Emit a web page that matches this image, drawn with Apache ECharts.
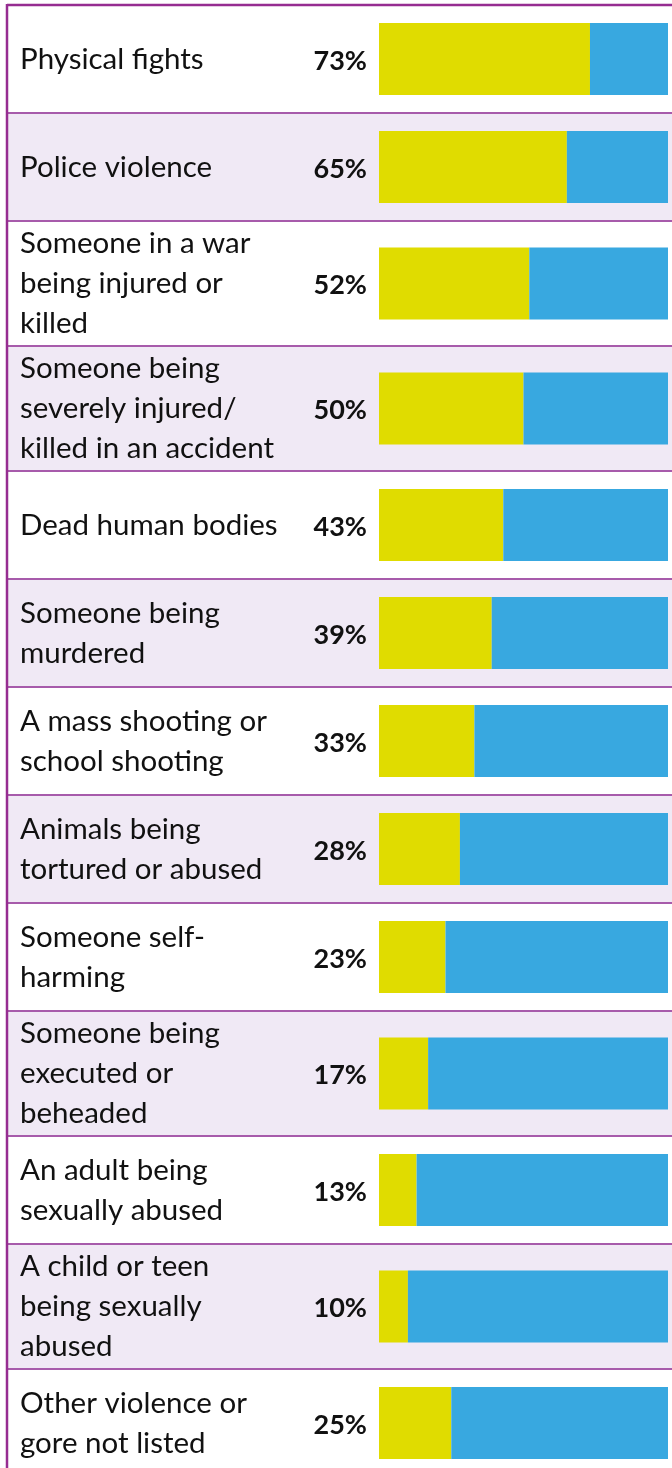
<!DOCTYPE html>
<html>
<head>
<meta charset="utf-8">
<script src="https://cdn.jsdelivr.net/npm/echarts@6/dist/echarts.min.js"></script>
<style>
  html, body { margin: 0; padding: 0; background: #ffffff; }
  #chart { width: 672px; height: 1468px; }
</style>
</head>
<body>
<div id="chart"></div>
<script>
// Types of violent content seen, share of respondents (%)
const categories = [
  'Physical fights',
  'Police violence',
  'Someone in a war\nbeing injured or\nkilled',
  'Someone being\nseverely injured/\nkilled in an accident',
  'Dead human bodies',
  'Someone being\nmurdered',
  'A mass shooting or\nschool shooting',
  'Animals being\ntortured or abused',
  'Someone self-\nharming',
  'Someone being\nexecuted or\nbeheaded',
  'An adult being\nsexually abused',
  'A child or teen\nbeing sexually\nabused',
  'Other violence or\ngore not listed'
];
const values = [73, 65, 52, 50, 43, 39, 33, 28, 23, 17, 13, 10, 25];
const axisMax = 100;

const YELLOW = '#e0dc00';
const BLUE = '#38a8e0';
const ROW_ALT = '#f0e9f5';
const RULE = '#a75bab';
const FRAME = '#962d91';
const TEXT = '#111111';
const FONT = 'Lato, "Noto Sans", sans-serif';

// table geometry
const tableLeft = 7;
const tableTop = 5;
const barLeft = 379;
const barWidth = 289;
const barHeight = 72;
const textLeft = 20;
const shortRow = 108;
const tallRow = 125;

const chart = echarts.init(document.getElementById('chart'), null, { renderer: 'canvas' });

const grids = [], xAxes = [], yAxes = [], series = [], graphics = [];
let y = tableTop;
categories.forEach((cat, i) => {
  const lines = cat.split('\n').length;
  const h = lines >= 3 ? tallRow : shortRow;

  // row background and top rule
  graphics.push({
    type: 'rect', silent: true, z: -10,
    shape: { x: tableLeft, y: y, width: 672 - tableLeft, height: h },
    style: { fill: i % 2 === 0 ? '#ffffff' : ROW_ALT }
  });
  graphics.push({
    type: 'line', silent: true, z: 5,
    shape: { x1: tableLeft, y1: y, x2: 672, y2: y },
    style: { stroke: i === 0 ? FRAME : RULE, lineWidth: i === 0 ? 2.5 : 2 }
  });

  grids.push({ left: barLeft, width: barWidth, top: y + (h - barHeight) / 2, height: barHeight });
  xAxes.push({ gridIndex: i, type: 'value', min: 0, max: axisMax, show: false });
  yAxes.push({
    gridIndex: i, type: 'category', data: [cat],
    axisLine: { show: false }, axisTick: { show: false }, splitLine: { show: false },
    axisLabel: {
      show: true, align: 'left', verticalAlign: 'middle', margin: barLeft - textLeft,
      fontFamily: FONT, fontSize: 29.5, lineHeight: 40, color: TEXT,
      padding: [6, 0, 0, 0]
    }
  });
  series.push({
    type: 'bar', xAxisIndex: i, yAxisIndex: i, stack: 's' + i,
    data: [values[i]], barWidth: barHeight, itemStyle: { color: YELLOW },
    silent: true, animation: false,
    label: {
      show: true, position: 'left', distance: 12, offset: [0, 2], formatter: '{c}%',
      fontFamily: FONT, fontWeight: 'bold', fontSize: 27, color: TEXT
    }
  });
  series.push({
    type: 'bar', xAxisIndex: i, yAxisIndex: i, stack: 's' + i,
    data: [axisMax - values[i]], barWidth: barHeight, itemStyle: { color: BLUE },
    silent: true, animation: false
  });
  y += h;
});

// left frame
graphics.push({
  type: 'line', silent: true, z: 6,
  shape: { x1: tableLeft, y1: tableTop - 1, x2: tableLeft, y2: 1468 },
  style: { stroke: FRAME, lineWidth: 2.5 }
});

chart.setOption({
  animation: false,
  backgroundColor: '#ffffff',
  grid: grids,
  xAxis: xAxes,
  yAxis: yAxes,
  series: series,
  graphic: graphics
});
</script>
</body>
</html>
